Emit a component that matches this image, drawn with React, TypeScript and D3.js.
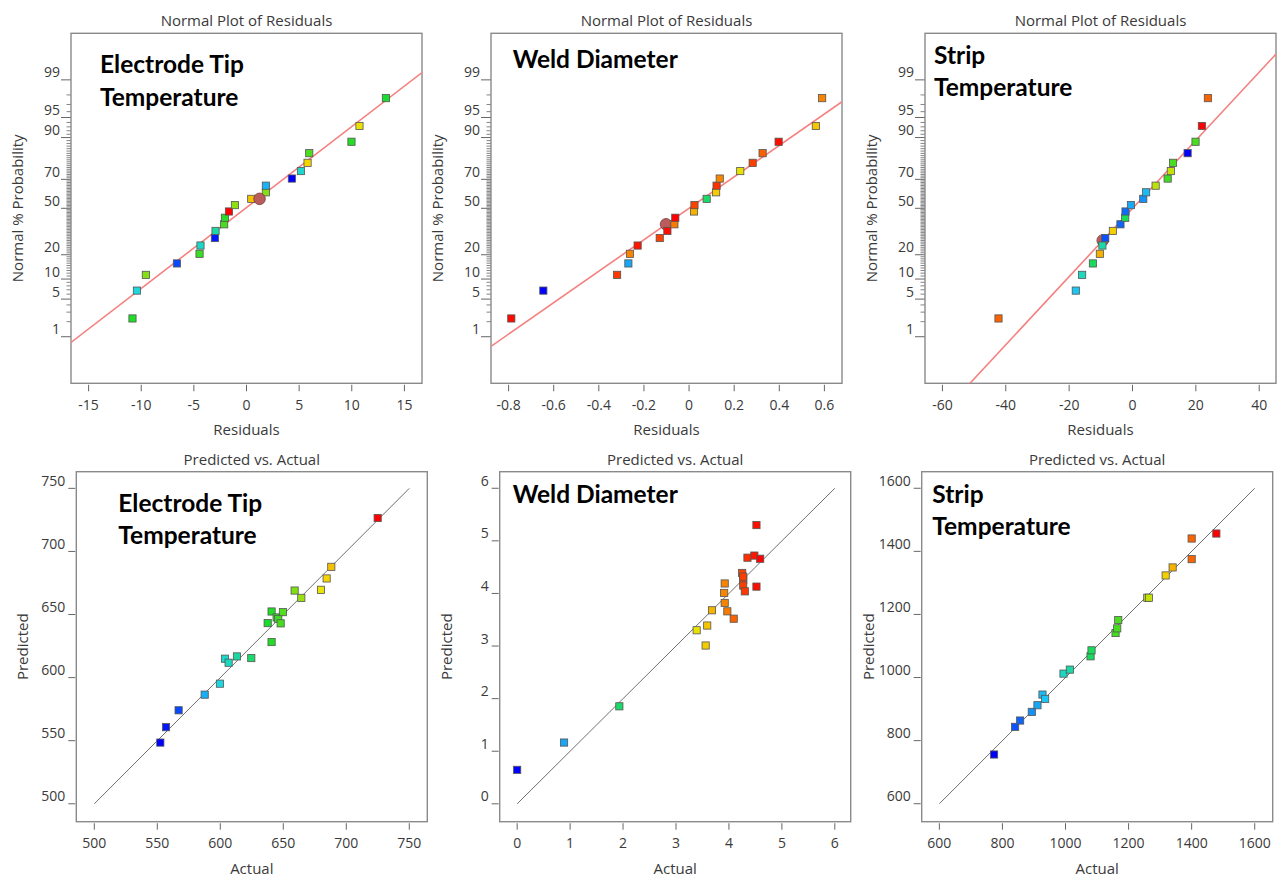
import React from "react";
import * as d3 from "d3";

// plotting positions (same for all three)
const normalPercent = [2.3, 6.8, 11.4, 15.9, 20.5, 25, 29.5, 34.1, 38.6, 43.2, 47.7, 52.3, 56.8, 61.4, 65.9, 70.5, 75, 79.5, 84.1, 88.6, 93.2, 97.7];
const probTicksMajor = [1, 5, 10, 20, 50, 70, 90, 95, 99];
const probTicksMinor = d3.range(1, 100);

// Electrode tip temperature
const etResidual = [-10.83, -10.41, -9.56, -6.61, -4.46, -4.37, -3.0, -2.94, -2.12, -2.05, -1.67, -1.1, 0.45, 1.84, 1.84, 4.31, 5.17, 5.8, 5.96, 9.97, 10.73, 13.24];
const etRunValue = [640, 600, 660, 567, 645, 605, 557, 612, 648, 642, 725, 662, 688, 660, 588, 552, 603, 684, 649, 641, 680, 637];
const etActual = [552.4, 556.9, 566.9, 587.6, 599.7, 603.7, 606.6, 613.2, 624.6, 640.7, 637.6, 640.7, 644.7, 646, 647.9, 649.7, 659.0, 664.3, 679.9, 684.4, 688.1, 724.9];
const etPredicted = [548.5, 560.7, 574.1, 586.5, 595.2, 615.0, 611.8, 616.8, 615.5, 628.2, 643.2, 652.4, 647.7, 646.5, 643.0, 651.9, 669.0, 663.2, 669.6, 678.6, 687.8, 726.5];

// Weld diameter
const wdResidual = [-0.788, -0.646, -0.319, -0.269, -0.262, -0.228, -0.13, -0.096, -0.065, -0.061, 0.022, 0.024, 0.078, 0.12, 0.122, 0.136, 0.227, 0.282, 0.326, 0.397, 0.562, 0.59];
const wdRunValue = [4.55, 0, 4.3, 0.89, 3.92, 4.48, 4.27, 4.52, 3.97, 4.59, 3.68, 4.25, 1.93, 3.56, 4.35, 3.91, 3.39, 4.27, 4.09, 4.52, 3.59, 3.92];
const wdActual = [0.0, 0.886, 1.93, 3.39, 3.56, 3.59, 3.68, 3.92, 3.91, 3.92, 3.97, 4.09, 4.25, 4.27, 4.27, 4.27, 4.30, 4.35, 4.48, 4.59, 4.52, 4.52];
const wdPredicted = [0.646, 1.165, 1.854, 3.30, 3.01, 3.39, 3.68, 4.19, 4.01, 3.82, 3.66, 3.52, 4.39, 4.26, 4.32, 4.15, 4.04, 4.68, 4.72, 4.66, 5.30, 4.13];

// Strip temperature
const stResidual = [-42.3, -17.9, -15.9, -12.5, -10.3, -9.5, -8.6, -6.2, -3.8, -2.3, -2.2, -0.5, 3.4, 4.3, 7.3, 11.1, 12.1, 12.8, 17.4, 19.9, 21.9, 23.8];
const stRunValue = [1400, 935, 994, 1079, 1340, 1014, 840, 1317, 856, 1082, 862, 911, 893, 927, 1259, 1159, 1265, 1164, 773, 1167, 1478, 1400];
const stActual = [773.5, 840.2, 856.1, 893.1, 911.1, 927, 935.4, 993.7, 1013.8, 1079.4, 1082.5, 1158.7, 1164, 1167.2, 1259.3, 1264.6, 1317.5, 1339.7, 1400, 1400, 1478.3];
const stPredicted = [756, 843.7, 863.7, 891.1, 912.2, 946, 932.3, 1012.4, 1025.1, 1067.3, 1086.3, 1141.1, 1155.9, 1182.3, 1253, 1253, 1323.6, 1349, 1375.3, 1440.7, 1456.5];

// inverse of the standard normal cdf (Acklam)
function probit(p: number) {
  const a = [-39.69683028665376, 220.9460984245205, -275.9285104469687, 138.357751867269, -30.66479806614716, 2.506628277459239];
  const b = [-54.47609879822406, 161.5858368580409, -155.6989798598866, 66.80131188771972, -13.28068155288572];
  const c = [-0.007784894002430293, -0.3223964580411365, -2.400758277161838, -2.549732539343734, 4.374664141464968, 2.938163982698783];
  const d = [0.007784695709041462, 0.3224671290700398, 2.445134137142996, 3.754408661907416];
  const tail = (q: number) =>
    (((((c[0] * q + c[1]) * q + c[2]) * q + c[3]) * q + c[4]) * q + c[5]) /
    ((((d[0] * q + d[1]) * q + d[2]) * q + d[3]) * q + 1);
  if (p < 0.02425) return tail(Math.sqrt(-2 * Math.log(p)));
  if (p > 1 - 0.02425) return -tail(Math.sqrt(-2 * Math.log(1 - p)));
  const q = p - 0.5;
  const r = q * q;
  return ((((((a[0] * r + a[1]) * r + a[2]) * r + a[3]) * r + a[4]) * r + a[5]) * q) /
    (((((b[0] * r + b[1]) * r + b[2]) * r + b[3]) * r + b[4]) * r + 1);
}

const rainbow = (domain: number[]) => {
  const [lo, hi] = domain;
  return d3
    .scaleLinear<string>()
    .domain([0, 0.25, 0.5, 0.75, 1].map((t) => lo + t * (hi - lo)))
    .range(["#0000ff", "#1fd6f2", "#18dc28", "#f2e200", "#ff0000"])
    .clamp(true);
};

const textColor = "#3a3a3a";
const axisFont = "'Open Sans', sans-serif";
const labelFont = "Lato, 'Open Sans', sans-serif";
const W = 351;
const H = 350;

const fmt = (v: number) => String(+v.toFixed(2));

const Frame = ({ title, xTitle, yTitle, label }: any) => (
  <>
    <text x={W / 2} y={-7} textAnchor="middle" fontSize={15} fill={textColor} fontFamily={axisFont}>
      {title}
    </text>
    <text x={W / 2} y={H + 52} textAnchor="middle" fontSize={15} fill={textColor} fontFamily={axisFont}>
      {xTitle}
    </text>
    <text
      transform={`translate(-54,${H / 2}) rotate(-90)`}
      textAnchor="middle"
      dominantBaseline="central"
      fontSize={15}
      fill={textColor}
      fontFamily={axisFont}
    >
      {yTitle}
    </text>
    <rect x={0} y={0} width={W} height={H} fill="none" stroke="#8a8a8a" strokeWidth={1.4} />
    {label.lines.map((l: string, i: number) => (
      <text key={i} x={label.dx} y={label.dy + i * 32.5} fontSize={24.5} fontWeight={700} fill="#000" fontFamily={labelFont}>
        {l}
      </text>
    ))}
  </>
);

const XAxis = ({ scale, ticks }: any) => (
  <g>
    {ticks.map((t: number, i: number) => (
      <g key={i} transform={`translate(${scale(t)},${H})`}>
        <line x1={0} x2={0} y1={1.5} y2={8} stroke="#666" />
        <text y={26.5} textAnchor="middle" fontSize={14} fill={textColor} fontFamily={axisFont}>
          {fmt(t)}
        </text>
      </g>
    ))}
  </g>
);

const Square = ({ cx, cy, fill }: any) => (
  <rect x={cx - 3.6} y={cy - 3.6} width={7.2} height={7.2} fill={fill} stroke="#555" strokeWidth={0.8} />
);

const NormalPlot = ({ left, top, xDomain, xTicks, residuals, runValues, fit, highlight, label }: any) => {
  const id = `clip-n-${left}`;
  const xScale = d3.scaleLinear().domain(xDomain).range([0, W]);
  const zScale = d3.scaleLinear().domain([-3.17, 3.17]).range([H, 0]);
  const color = rainbow(d3.extent(runValues) as number[]);
  const line = d3
    .line<number>()
    .x((v) => xScale(v))
    .y((v) => zScale((v - fit.mean) / fit.sd));
  const hl = (
    <circle cx={xScale(highlight.x)} cy={zScale(probit(highlight.p / 100))} r={5.8} fill="#b85c5c" stroke="#7a3c3c" strokeWidth={0.8} />
  );

  return (
    <g transform={`translate(${left},${top})`}>
      <clipPath id={id}>
        <rect x={0} y={0} width={W} height={H} />
      </clipPath>
      {probTicksMinor.map((p) => {
        const major = probTicksMajor.includes(p);
        return (
          <line
            key={p}
            x1={major ? -10 : -4.5}
            x2={0}
            y1={zScale(probit(p / 100))}
            y2={zScale(probit(p / 100))}
            stroke="#666"
            strokeWidth={major ? 1 : 0.8}
          />
        );
      })}
      {probTicksMajor.map((p) => (
        <text
          key={p}
          x={-11}
          y={zScale(probit(p / 100)) - 2.5}
          textAnchor="end"
          fontSize={14}
          fill={textColor}
          fontFamily={axisFont}
        >
          {p}
        </text>
      ))}
      <XAxis scale={xScale} ticks={xTicks} />
      <Frame title="Normal Plot of Residuals" xTitle="Residuals" yTitle="Normal % Probability" label={label} />
      <g clipPath={`url(#${id})`}>
        <path d={line(xDomain) || ""} fill="none" stroke="#f58080" strokeWidth={1.6} />
      </g>
      {highlight.under && hl}
      {residuals.map((r: number, i: number) => (
        <Square key={i} cx={xScale(r)} cy={zScale(probit(normalPercent[i] / 100))} fill={color(runValues[i])} />
      ))}
      {!highlight.under && hl}
    </g>
  );
};

const PredActual = ({ left, top, domain, yDomain, ticks, actual, predicted, label }: any) => {
  const xScale = d3.scaleLinear().domain(domain).range([0, W]);
  const yScale = d3.scaleLinear().domain(yDomain).range([H, 0]);
  const color = rainbow(d3.extent(actual) as number[]);
  const lo = ticks[0];
  const hi = ticks[ticks.length - 1];
  return (
    <g transform={`translate(${left},${top})`}>
      {ticks.map((t: number, i: number) => (
        <g key={i} transform={`translate(0,${yScale(t)})`}>
          <line x1={-8} x2={-1} stroke="#666" />
          <text x={-11} y={-2.5} textAnchor="end" fontSize={14} fill={textColor} fontFamily={axisFont}>
            {fmt(t)}
          </text>
        </g>
      ))}
      <XAxis scale={xScale} ticks={ticks} />
      <Frame title="Predicted vs. Actual" xTitle="Actual" yTitle="Predicted" label={label} />
      <line x1={xScale(lo)} y1={yScale(lo)} x2={xScale(hi)} y2={yScale(hi)} stroke="#707070" strokeWidth={1} />
      {actual.map((a: number, i: number) => (
        <Square key={i} cx={xScale(a)} cy={yScale(predicted[i])} fill={color(a)} />
      ))}
    </g>
  );
};

export default function App() {
  return (
    <svg width={1277} height={877} style={{ position: "absolute", left: 0, top: 0, background: "#fff" }}>
      <NormalPlot
        left={71}
        top={33.3}
        xDomain={[-16.67, 16.67]}
        xTicks={[-15, -10, -5, 0, 5, 10, 15]}
        residuals={etResidual}
        runValues={etRunValue}
        fit={{ mean: -0.1, sd: 6.82 }}
        highlight={{ x: 1.24, p: 56.8, under: false }}
        label={{ lines: ["Electrode Tip", "Temperature"], dx: 29, dy: 40 }}
      />
      <NormalPlot
        left={491}
        top={33.3}
        xDomain={[-0.878, 0.678]}
        xTicks={[-0.8, -0.6, -0.4, -0.2, 0, 0.2, 0.4, 0.6]}
        residuals={wdResidual}
        runValues={wdRunValue}
        fit={{ mean: 0, sd: 0.351 }}
        highlight={{ x: -0.102, p: 38.6, under: true }}
        label={{ lines: ["Weld Diameter"], dx: 21.7, dy: 35 }}
      />
      <NormalPlot
        left={925}
        top={33.3}
        xDomain={[-65.5, 45.3]}
        xTicks={[-60, -40, -20, 0, 20, 40]}
        residuals={stResidual}
        runValues={stRunValue}
        fit={{ mean: 0.05, sd: 16.2 }}
        highlight={{ x: -9.4, p: 28, under: true }}
        label={{ lines: ["Strip", "Temperature"], dx: 9, dy: 30.7 }}
      />
      <PredActual
        left={76.3}
        top={471.7}
        domain={[485.7, 764.3]}
        yDomain={[485.8, 763.2]}
        ticks={[500, 550, 600, 650, 700, 750]}
        actual={etActual}
        predicted={etPredicted}
        label={{ lines: ["Electrode Tip", "Temperature"], dx: 42, dy: 40 }}
      />
      <PredActual
        left={499.7}
        top={471.7}
        domain={[-0.33, 6.3]}
        yDomain={[-0.34, 6.315]}
        ticks={[0, 1, 2, 3, 4, 5, 6]}
        actual={wdActual}
        predicted={wdPredicted}
        label={{ lines: ["Weld Diameter"], dx: 13, dy: 31 }}
      />
      <PredActual
        left={921.7}
        top={471.7}
        domain={[544, 1657]}
        yDomain={[543, 1652.5]}
        ticks={[600, 800, 1000, 1200, 1400, 1600]}
        actual={stActual}
        predicted={stPredicted}
        label={{ lines: ["Strip", "Temperature"], dx: 10.6, dy: 31 }}
      />
    </svg>
  );
}
